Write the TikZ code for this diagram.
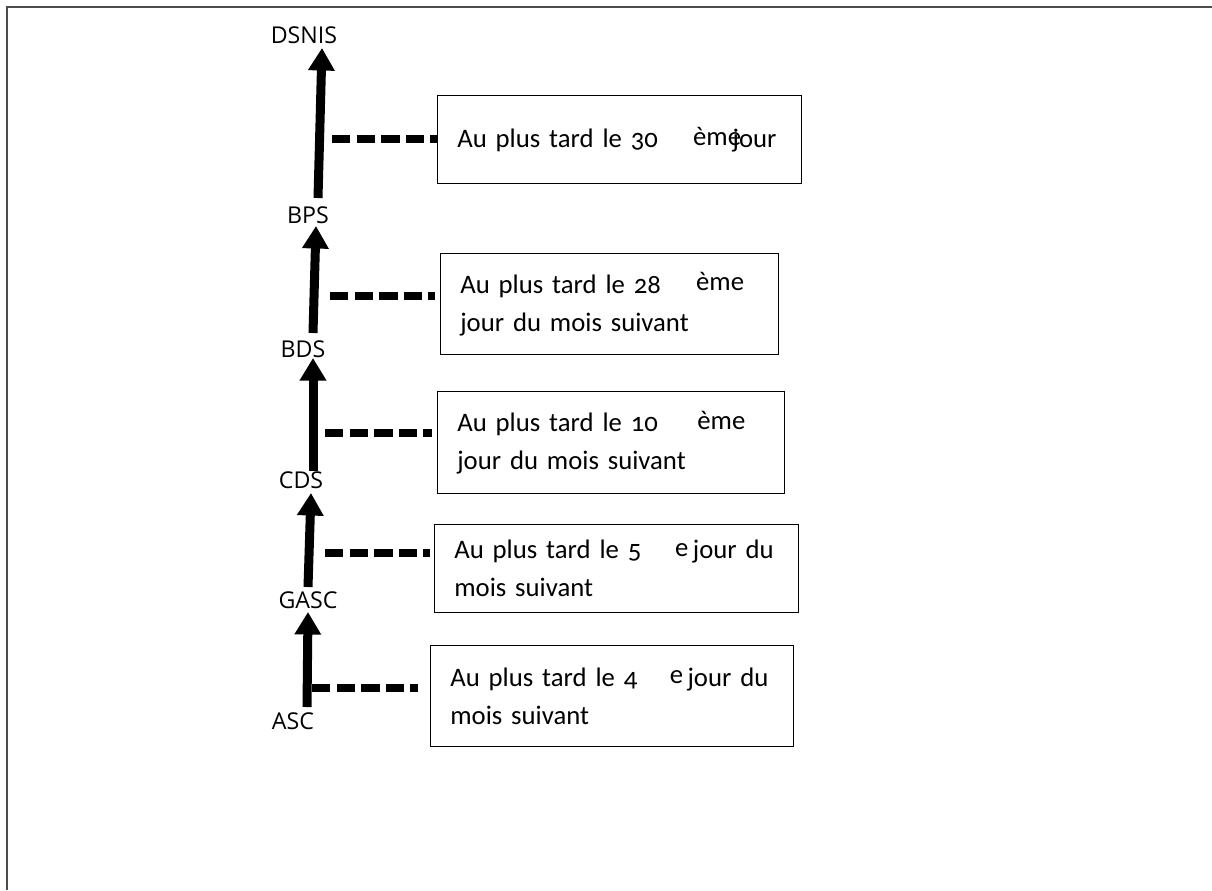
\documentclass[tikz,border=0pt]{standalone}
\usepackage{fontspec}
\usetikzlibrary{arrows.meta,calc}
\newfontfamily\labelfont{Open Sans}
\newfontfamily\bodyfont[Numbers=OldStyle, WordSpace=0.8]{Carlito}
\newcommand\exposant[1]{\raisebox{2pt}{#1}}

\begin{document}
\begin{tikzpicture}[x=0.025cm, y=-0.025cm,
    frame/.style={gray!60!black, line width=1.4pt},
    level/.style={font=\labelfont\fontsize{16.5}{19}\selectfont, inner sep=0pt},
    flow/.style={line width=6.4pt, -{Triangle[width=18pt,length=16pt]}},
    link/.style={line width=5pt, dash pattern=on 13pt off 4.5pt},
    note/.style={draw, line width=0.9pt, anchor=north west, align=left,
        inner xsep=14pt, inner ysep=0pt, font=\bodyfont\fontsize{19}{27}\selectfont}]
    \useasboundingbox (0,0) rectangle (1212,890);
    \draw[frame] (7,890) -- (7,7) -- (1212,7);

    % levels
    \node[level] (dsnis) at (304,35) {DSNIS};
    \node[level] (bps) at (308,215) {BPS};
    \node[level] (bds) at (303,349) {BDS};
    \node[level] (cds) at (301,480) {CDS};
    \node[level] (gasc) at (308,600) {GASC};
    \node[level] (asc) at (293,721) {ASC};

    \draw[flow] ($(bps)+(10,-17)$) -- ($(dsnis)+(18,13)$);
    \draw[flow] ($(bds)+(10,-16)$) -- ($(bps)+(8,11)$);
    \draw[flow] ($(cds)+(12,-9)$) -- ($(bds)+(10,9)$);
    \draw[flow] ($(gasc)+(0,-13)$) -- ($(cds)+(10,13)$);
    \draw[flow] ($(asc)+(14,-14)$) -- ($(gasc)+(0,12)$);

    % deadlines
    \node[note, text width=231pt, minimum height=62.6pt] (n30) at (437,95)
        {Au plus tard le 30\hspace{25pt}\exposant{ème}\hspace{-6pt}jour};
    \node[note, text width=212.4pt, minimum height=71.8pt] (n28) at (440,253)
        {Au plus tard le 28\hspace{25pt}\exposant{ème}\\jour du mois suivant};
    \node[note, text width=218.8pt, minimum height=72.5pt] (n10) at (437,391)
        {Au plus tard le 10\hspace{28pt}\exposant{ème}\\jour du mois suivant};
    \node[note, text width=231pt, minimum height=62.6pt] (n5) at (434,524)
        {Au plus tard le 5\hspace{24pt}\exposant{e}\,jour du\\mois suivant};
    \node[note, text width=230pt, minimum height=71.8pt] (n4) at (430,645)
        {Au plus tard le 4\hspace{23pt}\exposant{e}\,jour du\\mois suivant};

    \coordinate (d30) at (332,139);
    \coordinate (d28) at (330,296);
    \coordinate (d10) at (325,433);
    \coordinate (d5) at (325,553);
    \coordinate (d4) at (312,688);
    \draw[link] (d30) -- (d30 -| n30.west);
    \draw[link, shorten >=3.5pt] (d28) -- (d28 -| n28.west);
    \draw[link, shorten >=3.5pt] (d10) -- (d10 -| n10.west);
    \draw[link, shorten >=3pt] (d5) -- (d5 -| n5.west);
    \draw[link, shorten >=8.5pt] (d4) -- (d4 -| n4.west);
\end{tikzpicture}
\end{document}
